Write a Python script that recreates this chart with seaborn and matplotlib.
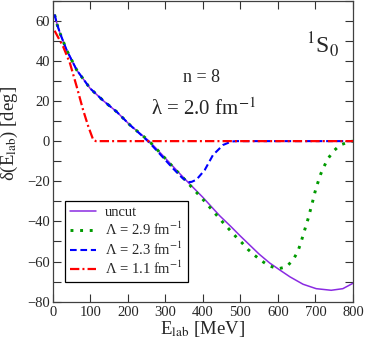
import matplotlib
matplotlib.use("Agg")
import matplotlib.pyplot as plt
import seaborn as sns
from matplotlib.ticker import MultipleLocator

# ---- data ----
uncut_E = [5, 12, 20, 37, 64, 100, 135, 170, 206, 232, 257, 285, 320, 340, 370, 400,
           445, 475, 500, 525, 550, 578, 605, 632, 667, 702, 742, 773, 800]
uncut_d = [63, 58, 53.5, 45.4, 35.4, 26.2, 20.1, 14.7, 8.0, 3.9, 0.0, -5.5, -12.5, -16.5,
           -22.3, -28.0, -37.2, -42.6, -47.3, -51.8, -56.3, -60.7, -64.2, -67.6, -71.3,
           -73.5, -74.3, -73.5, -70.8]

l29_E = [5, 12, 20, 37, 64, 100, 135, 170, 206, 232, 257, 285, 320, 350, 400, 454, 470,
         487, 504, 520, 538, 557, 576, 601, 623, 640, 652, 660, 667, 674, 681, 687, 693,
         699, 706, 714, 723, 733, 749, 766, 791, 800]
l29_d = [63, 58, 53.5, 45.4, 35.4, 26.2, 20.1, 14.7, 8.0, 3.9, 0.0, -5.6, -12.8, -18.8,
         -29.0, -40.6, -43.9, -47.4, -50.6, -53.9, -56.9, -59.7, -62.1, -63.6, -62.6,
         -59.2, -55.4, -51.3, -46.9, -42.6, -38.3, -34.0, -29.7, -25.2, -20.9, -16.4,
         -12.6, -8.8, -4.8, -1.9, -0.3, 0.0]

l23_E = [5, 12, 20, 37, 64, 100, 135, 170, 206, 232, 257, 285, 321, 345, 361, 370, 383,
         405, 427, 454, 476, 490, 800]
l23_d = [63, 58, 53.5, 45.4, 35.4, 26.2, 20.1, 14.7, 8.0, 3.7, -0.6, -6.3, -13.7, -18.3,
         -20.4, -20.3, -19.2, -14.4, -6.9, -1.9, -0.2, 0.0, 0.0]

l11_E = [5, 28, 46, 64, 81, 95, 108, 115, 800]
l11_d = [55, 47, 38.8, 27.1, 15.5, 7.2, 0.6, 0.0, 0.0]

labels = ["uncut", r"Λ = 2.9 fm$^{-1}$", r"Λ = 2.3 fm$^{-1}$", r"Λ = 1.1 fm$^{-1}$"]

# ---- style ----
sns.set_style("ticks")
plt.rcParams["font.family"] = ["Liberation Serif", "DejaVu Serif"]
plt.rcParams["mathtext.fontset"] = "stix"

fig = plt.figure(figsize=(3.65, 3.41), dpi=100)
ax = fig.add_axes([0.1444, 0.1152, 0.8227, 0.883])

sns.lineplot(x=uncut_E, y=uncut_d, ax=ax, color="#8a2be2", lw=1.1,
             sort=False, estimator=None, label=labels[0])
sns.lineplot(x=l29_E, y=l29_d, ax=ax, color="#009a00", lw=2.1,
             linestyle=(0, (1, 2.3)), sort=False, estimator=None, label=labels[1])
sns.lineplot(x=l23_E, y=l23_d, ax=ax, color="#0000ff", lw=1.5,
             linestyle=(0, (3.2, 1.8)), sort=False, estimator=None, label=labels[2])
sns.lineplot(x=l11_E, y=l11_d, ax=ax, color="#ff0000", lw=1.6,
             linestyle=(0, (4.2, 1.4, 0.9, 1.4)), sort=False, estimator=None, label=labels[3])

ax.set_xlim(0, 800)
ax.set_ylim(-80, 70)
ax.xaxis.set_major_locator(MultipleLocator(100))
ax.yaxis.set_major_locator(MultipleLocator(20))
ax.yaxis.set_minor_locator(MultipleLocator(10))
ax.tick_params(axis="both", which="both", direction="in", top=True, right=True,
               labelsize=10.5, width=0.8, color="0.2")
ax.tick_params(axis="both", which="major", length=5.5, pad=3)
ax.tick_params(axis="y", which="minor", length=5.5)
ax.tick_params(axis="y", which="major", pad=2)
for s in ax.spines.values():
    s.set_linewidth(0.9)
    s.set_color("0.25")

ax.set_xlabel(r"E$_{\mathrm{lab}}$ [MeV]", fontsize=13.5)
ax.set_ylabel(r"δ(E$_{\mathrm{lab}}$) [deg]", fontsize=13.5)
ax.xaxis.set_label_coords(0.5, -0.058)
ax.yaxis.set_label_coords(-0.108, 0.56)

ax.text(396, 29.6, "n = 8", fontsize=13, ha="center", va="baseline")
ax.text(403, 13, r"λ = 2.0 fm$^{-1}$", fontsize=15, ha="center", va="baseline")
ax.text(718, 43.8, r"$^{1}$S$_{0}$", fontsize=17, ha="center", va="baseline")

leg = ax.legend(loc="lower left", bbox_to_anchor=(0.041, 0.064), borderaxespad=0,
                fontsize=10.5, handlelength=1.8, handletextpad=0.6, borderpad=0.35,
                labelspacing=0.15, fancybox=False, framealpha=1, edgecolor="black")
leg.get_frame().set_linewidth(0.9)

fig.savefig("out.png", dpi=100)
